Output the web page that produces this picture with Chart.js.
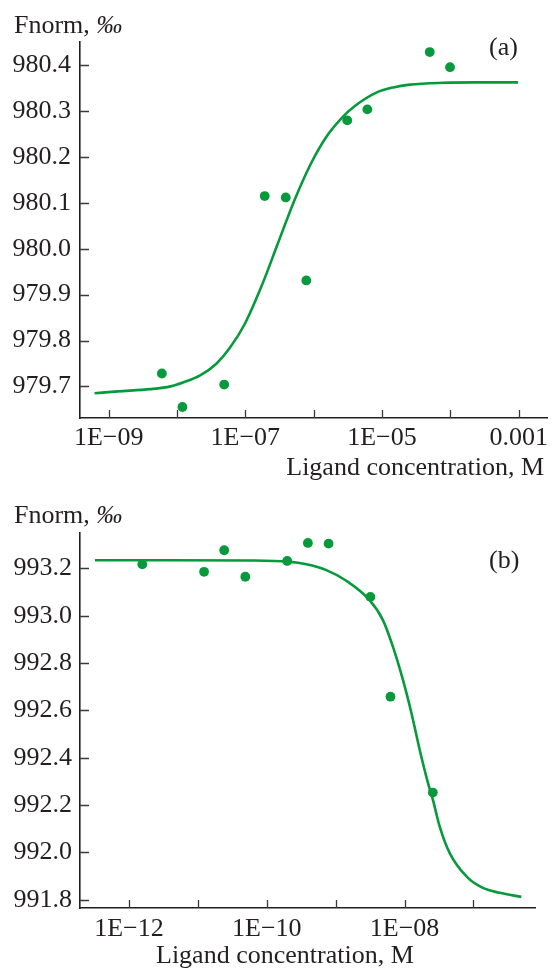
<!DOCTYPE html>
<html>
<head>
<meta charset="utf-8">
<script src="https://cdn.jsdelivr.net/npm/chart.js@4.4.1/dist/chart.umd.min.js"></script>
<style>
  html, body { margin: 0; padding: 0; background: #fff; }
  #wrap { position: relative; width: 552px; height: 969px; }
  canvas { position: absolute; left: 0; }
  #chartA { top: 0; }
  #chartB { top: 480px; }
</style>
</head>
<body>
<div id="wrap">
  <canvas id="chartA" width="552" height="480"></canvas>
  <canvas id="chartB" width="552" height="489"></canvas>
</div>
<script>
// panel (a): measured points and fitted curve
const concA = [6.0e-9, 1.2e-8, 4.9e-8, 1.92e-7, 3.9e-7, 7.8e-7, 3.1e-6, 6.1e-6, 5.0e-5, 9.9e-5];
const fnormA = [979.728, 979.655, 979.704, 980.115, 980.112, 979.931, 980.280, 980.304, 980.429, 980.396];
const fitConcA = [6.2e-10, 1.35e-9, 4.1e-9, 8.0e-9, 1.25e-8, 2.18e-8, 3.8e-8, 5.94e-8, 9.8e-8, 1.71e-7,
  2.98e-7, 5.2e-7, 9.06e-7, 1.58e-6, 2.76e-6, 4.06e-6, 8.4e-6, 1.46e-5, 2.55e-5, 7.8e-5, 2.36e-4, 9.8e-4];
const fitA = [979.685, 979.689, 979.694, 979.700, 979.709, 979.724, 979.750, 979.784, 979.836, 979.917,
  980.011, 980.105, 980.185, 980.247, 980.290, 980.312, 980.341, 980.352, 980.358, 980.362, 980.363,
  980.363];
const xTicksA = [1e-9, 1e-8, 1e-7, 1e-6, 1e-5, 1e-4, 1e-3];
const xLabelsA = ['1E\u221209', '', '1E\u221207', '', '1E\u221205', '', '0.001'];
const yTicksA = [979.7, 979.8, 979.9, 980.0, 980.1, 980.2, 980.3, 980.4];

// panel (b)
const concB = [1.56e-12, 1.23e-11, 2.41e-11, 4.88e-11, 1.98e-10, 3.95e-10, 7.89e-10, 3.19e-9, 6.24e-9, 2.57e-8];
const fnormB = [993.218, 993.186, 993.277, 993.165, 993.232, 993.308, 993.305, 993.080, 992.658, 992.253];
const fitConcB = [3.2e-13, 3.9e-12, 6.2e-11, 2.03e-10, 3.76e-10, 7.33e-10, 1.43e-9, 3.11e-9, 4.85e-9,
  6.79e-9, 9.48e-9, 1.26e-8, 1.66e-8, 2.19e-8, 2.58e-8, 3.23e-8, 4.52e-8, 8.32e-8, 1.37e-7, 2.4e-7,
  4.95e-7];
const fitB = [993.235, 993.235, 993.234, 993.229, 993.218, 993.193, 993.148, 993.066, 992.982, 992.869,
  992.729, 992.588, 992.433, 992.293, 992.222, 992.110, 991.997, 991.892, 991.850, 991.829, 991.812];
const xTicksB = [1e-12, 1e-11, 1e-10, 1e-9, 1e-8, 1e-7];
const xLabelsB = ['1E\u221212', '', '1E\u221210', '', '1E\u221208', ''];
const yTicksB = [991.8, 992.0, 992.2, 992.4, 992.6, 992.8, 993.0, 993.2];

const GREEN = '#079a3c';
const INK = '#231f20';
const FONT = '"Liberation Serif", "Times New Roman", serif';

function pairs(xs, ys) {
  return xs.map((x, i) => ({ x: x, y: ys[i] }));
}

// axis labels, panel letter and inward tick marks
function decor(t) {
  return {
    id: 'decor',
    afterDraw(chart) {
      const ctx = chart.ctx;
      const xs = chart.scales.x, ys = chart.scales.y;
      const area = chart.chartArea;
      ctx.save();
      ctx.strokeStyle = '#3a3a3a';
      ctx.lineWidth = 1.3;
      ctx.beginPath();
      t.xTicks.forEach(v => {
        const px = Math.round(xs.getPixelForValue(v)) + 0.5;
        ctx.moveTo(px, area.bottom);
        ctx.lineTo(px, area.bottom - 8);
      });
      t.yTicks.forEach(v => {
        const py = Math.round(ys.getPixelForValue(v)) + 0.5;
        ctx.moveTo(area.left, py);
        ctx.lineTo(area.left + 9, py);
      });
      ctx.stroke();

      ctx.fillStyle = INK;
      ctx.textBaseline = 'alphabetic';
      ctx.font = '26px ' + FONT;
      ctx.textAlign = 'left';
      const head = 'Fnorm, ';
      ctx.fillText(head, 14, t.yLabelY);
      const w = ctx.measureText(head).width;
      ctx.font = 'italic 26px ' + FONT;
      ctx.fillText('\u2030', 14 + w, t.yLabelY);
      ctx.font = '26px ' + FONT;
      ctx.fillText(t.panel, 489, t.panelY);
      ctx.textAlign = t.xTitleAlign;
      ctx.fillText('Ligand concentration, M', t.xTitleX, t.xTitleY);
      ctx.restore();
    }
  };
}

function makeChart(id, d) {
  return new Chart(document.getElementById(id), {
    type: 'scatter',
    data: {
      datasets: [
        {
          data: pairs(d.conc, d.fnorm),
          pointRadius: 4.9,
          pointBackgroundColor: GREEN,
          pointBorderWidth: 0,
          showLine: false
        },
        {
          data: pairs(d.fitConc, d.fit),
          showLine: true,
          borderColor: GREEN,
          borderWidth: 2.6,
          pointRadius: 0,
          cubicInterpolationMode: 'monotone'
        }
      ]
    },
    options: {
      responsive: false,
      animation: false,
      devicePixelRatio: 1,
      layout: { padding: d.padding },
      plugins: {
        legend: { display: false },
        tooltip: { enabled: false }
      },
      scales: {
        x: {
          type: 'logarithmic',
          min: d.xMin,
          max: d.xMax,
          afterBuildTicks: s => { s.ticks = d.xTicks.map(v => ({ value: v })); },
          afterFit: s => { s.height = d.xAxisH; s.paddingLeft = 0; s.paddingRight = 0; },
          border: { display: true, color: INK, width: 1.6 },
          grid: { display: true, drawOnChartArea: false, drawTicks: false },
          ticks: {
            autoSkip: false,
            maxRotation: 0,
            padding: d.xPad,
            color: INK,
            font: { family: FONT, size: 26 },
            callback: (v, i) => d.xLabels[i]
          }
        },
        y: {
          min: d.yMin,
          max: d.yMax,
          afterBuildTicks: s => { s.ticks = d.yTicks.map(v => ({ value: v })); },
          afterFit: s => { s.width = 80; s.paddingTop = 0; s.paddingBottom = 0; },
          border: { display: true, color: INK, width: 1.6 },
          grid: { display: true, drawOnChartArea: false, drawTicks: false },
          ticks: {
            padding: d.yPad,
            color: INK,
            font: { family: FONT, size: 26 },
            callback: v => v.toFixed(1)
          }
        }
      }
    },
    plugins: [decor(d.decor)]
  });
}

makeChart('chartA', {
  conc: concA, fnorm: fnormA, fitConc: fitConcA, fit: fitA,
  xTicks: xTicksA, xLabels: xLabelsA, yTicks: yTicksA,
  xMin: 3.8e-10, xMax: 2.61e-3, yMin: 979.631, yMax: 980.451,
  padding: { top: 42, right: 0, bottom: 0, left: 0 },
  xAxisH: 62, xPad: 5, yPad: 9,
  decor: {
    xTicks: xTicksA, yTicks: yTicksA, panel: '(a)', panelY: 55, yLabelY: 33,
    xTitleAlign: 'right', xTitleX: 544, xTitleY: 475
  }
});

makeChart('chartB', {
  conc: concB, fnorm: fnormB, fitConc: fitConcB, fit: fitB,
  xTicks: xTicksB, xLabels: xLabelsB, yTicks: yTicksB,
  xMin: 1.945e-13, xMax: 7.82e-7, yMin: 991.765, yMax: 993.35,
  padding: { top: 53, right: 17, bottom: 0, left: 0 },
  xAxisH: 61, xPad: 6, yPad: 8,
  decor: {
    xTicks: xTicksB, yTicks: yTicksB, panel: '(b)', panelY: 88, yLabelY: 43,
    xTitleAlign: 'left', xTitleX: 156, xTitleY: 483
  }
});
</script>
</body>
</html>
